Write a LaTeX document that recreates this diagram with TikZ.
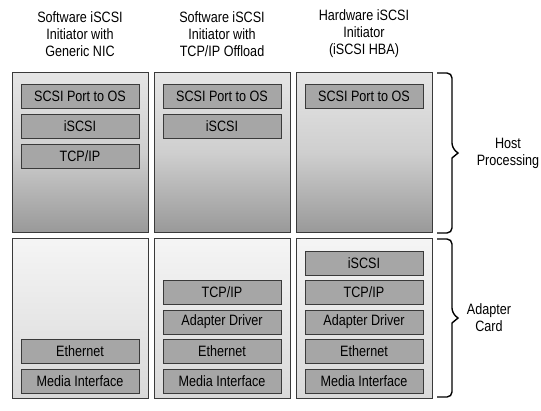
\documentclass[tikz,border=0pt]{standalone}
\usepackage{fontspec}
\setmainfont{Liberation Sans}[FakeStretch=0.84]
\definecolor{boxfill}{HTML}{A6A6A6}
\definecolor{edge}{HTML}{3A3A3A}
\begin{document}
\begin{tikzpicture}[x=1pt,y=-1pt,
  txt/.style={font=\fontsize{15}{17}\selectfont},
  head/.style={txt,align=center,anchor=center},
  hostbox/.style={draw=edge,line width=1pt,top color=gray!20,bottom color=gray!80,middle color=gray!38},
  cardbox/.style={draw=edge,line width=1pt,top color=gray!8,bottom color=gray!30},
  layer/.style={draw=edge,line width=1pt,fill=boxfill,minimum width=118pt,minimum height=24pt,inner sep=0pt,anchor=north,txt},
  brc/.style={line width=1.4pt,black,rounded corners=5pt},
  side/.style={txt,align=center}]
\useasboundingbox (0,0) rectangle (541,410);
% headers
\node[head] (h1) at (80,34) {Software iSCSI\\Initiator with\\Generic NIC};
\node[head] (h2) at (222,34) {Software iSCSI\\Initiator with\\TCP/IP Offload};
\node[head] (h3) at (364,34) {Hardware iSCSI\\Initiator\\(iSCSI HBA)};
% outer boxes
\foreach \c/\x in {1/12,2/154,3/296}{
  \path[hostbox] (\x,72.5) rectangle ++(136,160);
  \path[cardbox] (\x,238) rectangle ++(136,160);
}
% host layers
\node[layer] (p1) at (80,83.5) {SCSI Port to OS};
\node[layer] (i1) at (80,113.5) {iSCSI};
\node[layer] (t1) at (80,143.5) {TCP/IP};
\node[layer] (p2) at (222,83.5) {SCSI Port to OS};
\node[layer] (i2) at (222,113.5) {iSCSI};
\node[layer] (p3) at (364,83.5) {SCSI Port to OS};
% card layers
\node[layer] (e1) at (80,339) {Ethernet};
\node[layer] (m1) at (80,368.5) {Media Interface};
\node[layer] (t2) at (222,280) {TCP/IP};
\node[layer] (a2) at (222,309.5) {Adapter Driver};
\node[layer] (e2) at (222,339) {Ethernet};
\node[layer] (m2) at (222,368.5) {Media Interface};
\node[layer] (i3) at (364,250.5) {iSCSI};
\node[layer] (t3) at (364,280) {TCP/IP};
\node[layer] (a3) at (364,309.5) {Adapter Driver};
\node[layer] (e3) at (364,339) {Ethernet};
\node[layer] (m3) at (364,368.5) {Media Interface};
% braces
\draw[brc] (437,73) -- (452,73) -- (452,148) [sharp corners] -- (458,153) -- (452,158) [rounded corners=5pt] -- (452,233) -- (437,233);
\draw[brc] (437,239) -- (452,239) -- (452,313) [sharp corners] -- (458,318) -- (452,323) [rounded corners=5pt] -- (452,397) -- (437,397);
\node[side] (hp) at (508,153) {Host\\Processing};
\node[side] (ac) at (489,318) {Adapter\\Card};
\end{tikzpicture}
\end{document}
